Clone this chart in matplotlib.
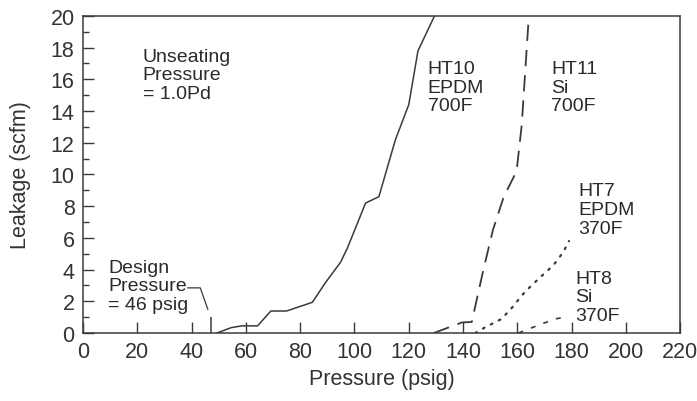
import matplotlib
matplotlib.use("Agg")
import matplotlib.pyplot as plt
from matplotlib.ticker import MultipleLocator

plt.rcParams['font.family'] = ['Liberation Sans', 'DejaVu Sans']

# leakage curves (pressure psig, leakage scfm)
ht10_p = [49.3, 54.6, 58.7, 64.3, 69.2, 75.0, 84.5, 89.4, 94.9, 97.4, 104.1, 109.0, 115.1, 120.0, 123.4, 129.5]
ht10_l = [0.0, 0.34, 0.46, 0.45, 1.39, 1.39, 1.94, 3.2, 4.47, 5.36, 8.2, 8.6, 12.2, 14.4, 17.8, 20.0]

ht11_p = [129.2, 139.6, 143.2, 147.5, 151.0, 155.0, 159.7, 161.6, 164.0, 165.0]
ht11_l = [0.0, 0.67, 0.7, 4.0, 6.5, 8.6, 10.2, 13.1, 19.4, 20.0]

ht7_p = [144.5, 148.1, 154.2, 158.0, 162.8, 168.3, 173.2, 176.9, 179.0]
ht7_l = [0.0, 0.36, 0.89, 1.6, 2.6, 3.5, 4.26, 5.1, 5.8]

ht8_p = [160.4, 164.0, 168.9, 173.8, 178.5]
ht8_l = [0.0, 0.25, 0.57, 0.89, 1.03]

design_p = 47
design_mark = 1.0

xticks = list(range(0, 221, 20))
yticks = list(range(0, 21, 2))

ink = '#3a3a3a'

fig = plt.figure(figsize=(6.97, 4.02), dpi=100)
ax = fig.add_axes([0.119, 0.169, 0.857, 0.789])

ax.plot(ht10_p, ht10_l, color=ink, lw=1.1, linestyle='-')
ax.plot(ht11_p, ht11_l, color=ink, lw=1.3, linestyle=(0, (9, 5)))
ax.plot(ht7_p, ht7_l, color=ink, lw=1.6, linestyle=(0, (0.8, 3.2)), dash_capstyle='round')
ax.plot(ht8_p, ht8_l, color=ink, lw=1.2, linestyle=(0, (3, 5)))

# design pressure marker and leader
ax.vlines(design_p, 0, design_mark, color=ink, lw=1.1)
ax.plot([38.6, 43.2, 46.0], [2.85, 2.85, 1.5], color=ink, lw=0.9)

ax.set_xlim(0, 220)
ax.set_ylim(0, 20)
ax.set_xticks(xticks)
ax.set_yticks(yticks)
ax.yaxis.set_minor_locator(MultipleLocator(1))
ax.tick_params(direction='in', length=8, width=1, color=ink, labelsize=15.5,
               labelcolor='#333333', pad=6)
ax.tick_params(which='minor', direction='in', length=4, width=1, color=ink)
for s in ax.spines.values():
    s.set_color(ink)
    s.set_linewidth(1.1)

ax.set_xlabel('Pressure (psig)', fontsize=15.5, color='#333333', labelpad=4)
ax.set_ylabel('Leakage (scfm)', fontsize=15.5, color='#333333', labelpad=14)

tk = dict(fontsize=14, color='#2a2a2a', va='top', ha='left', linespacing=1.12)
ax.text(22, 18.0, 'Unseating\nPressure\n= 1.0Pd', **tk)
ax.text(127, 17.2, 'HT10\nEPDM\n700F', **tk)
ax.text(172.5, 17.2, 'HT11\nSi\n700F', **tk)
ax.text(182.4, 9.5, 'HT7\nEPDM\n370F', **tk)
ax.text(181.3, 4.0, 'HT8\nSi\n370F', **tk)
ax.text(9.3, 4.7, 'Design\nPressure\n= 46 psig', **tk)

fig.savefig('out.png', dpi=100)
